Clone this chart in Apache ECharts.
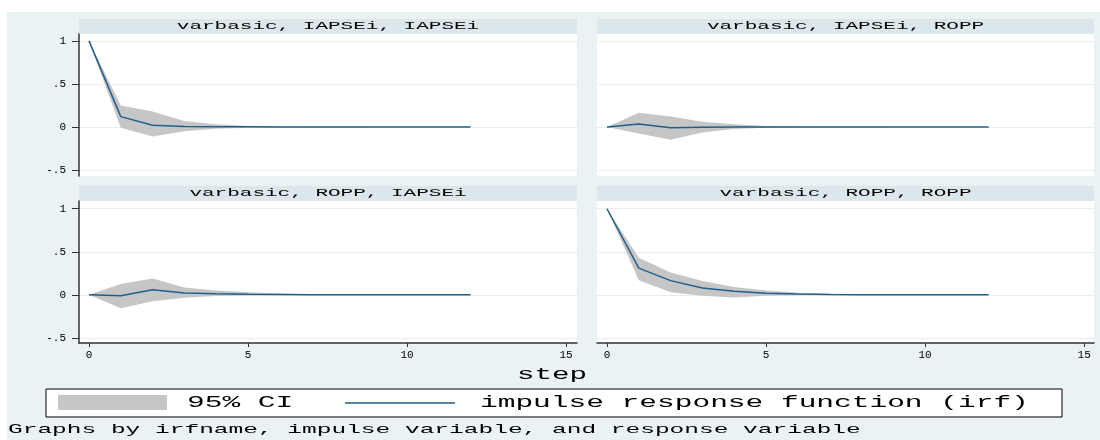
<!DOCTYPE html>
<html>
<head>
<meta charset="utf-8">
<script src="https://cdn.jsdelivr.net/npm/echarts@6/dist/echarts.min.js"></script>
<style>
html,body{margin:0;padding:0;background:#fff;}
#main{width:1100px;height:440px;}
</style>
</head>
<body>
<div id="main"></div>
<script>
var steps = [0,1,2,3,4,5,6,7,8,9,10,11,12];
var xTicks = [0,5,10,15];
var yTicks = [-0.5,0,0.5,1];
var panelTitles = ['varbasic, IAPSEi, IAPSEi','varbasic, IAPSEi, ROPP','varbasic, ROPP, IAPSEi','varbasic, ROPP, ROPP'];

// impulse IAPSEi -> response IAPSEi
var irf1 = [1,0.12,0.02,0.005,0.002,0.001,0,0,0,0,0,0,0];
var lo1  = [1,-0.01,-0.11,-0.05,-0.02,-0.008,-0.003,-0.001,0,0,0,0,0];
var hi1  = [1,0.25,0.18,0.07,0.03,0.012,0.005,0.002,0.001,0,0,0,0];
// impulse IAPSEi -> response ROPP
var irf2 = [0,0.035,-0.01,-0.004,0,0,0,0,0,0,0,0,0];
var lo2  = [0,-0.075,-0.15,-0.065,-0.025,-0.01,-0.004,-0.001,0,0,0,0,0];
var hi2  = [0,0.165,0.12,0.06,0.03,0.012,0.005,0.002,0.001,0,0,0,0];
// impulse ROPP -> response IAPSEi
var irf3 = [0,-0.012,0.058,0.022,0.012,0.006,0.003,0.001,0,0,0,0,0];
var lo3  = [0,-0.155,-0.075,-0.035,-0.015,-0.008,-0.003,-0.001,0,0,0,0,0];
var hi3  = [0,0.125,0.19,0.085,0.05,0.03,0.015,0.006,0.002,0.001,0,0,0];
// impulse ROPP -> response ROPP
var irf4 = [1,0.31,0.165,0.08,0.04,0.018,0.008,0.004,0.002,0.001,0,0,0];
var lo4  = [1,0.17,0.03,-0.01,-0.03,-0.012,-0.005,-0.002,-0.001,0,0,0,0];
var hi4  = [1,0.43,0.26,0.16,0.09,0.05,0.025,0.012,0.006,0.003,0.001,0,0];

var FONT = "'Courier New', 'Liberation Mono', monospace";
var lineColor = '#1f5f8b';
var ciColor = '#c6c6c6';

var chart = echarts.init(document.getElementById('main'));

function pairs(vals){
	return steps.map(function(s,k){ return [s, vals[k]]; });
}

function fmtY(v){
	return String(v).replace('0.', '.');
}

function makeX(i, bottom, right){
	return {
		type:'value', gridIndex:i, min:-0.314, max: right ? 15.31 : 15.346,
		axisLine:{show:bottom, onZero:false, lineStyle:{color:'#333', width:1.5}},
		axisTick:{show:bottom, length:4, customValues:xTicks, lineStyle:{color:'#333'}},
		axisLabel:{show:bottom, customValues:xTicks, margin:7, color:'#000', fontFamily:FONT, fontSize:11},
		splitLine:{show:false}
	};
}

function makeY(i, left, bottom){
	return {
		type:'value', gridIndex:i, min: bottom ? -0.56 : -0.57, max: bottom ? 1.09 : 1.08,
		axisLine:{show:left, onZero:false, lineStyle:{color:'#333', width:1.5}},
		axisTick:{show:left, length:7, customValues:yTicks, lineStyle:{color:'#333'}},
		axisLabel:{show:left, customValues:yTicks, margin:13, color:'#000', fontFamily:FONT, fontSize:11, formatter:fmtY},
		splitLine:{show:true, lineStyle:{color:'#e6eef0', width:1}}
	};
}

function bandSeries(i, lo, hi){
	return {
		type:'custom', xAxisIndex:i, yAxisIndex:i, silent:true, data:[[0,0]],
		renderItem:function(params, api){
			var pts = [];
			for (var k = 0; k < steps.length; k++) pts.push(api.coord([steps[k], hi[k]]));
			for (var k = steps.length - 1; k >= 0; k--) pts.push(api.coord([steps[k], lo[k]]));
			return {type:'polygon', shape:{points:pts}, style:{fill:ciColor}};
		}
	};
}

function irfSeries(i, vals){
	return {
		type:'line', xAxisIndex:i, yAxisIndex:i, data:pairs(vals), symbol:'none',
		lineStyle:{color:lineColor, width:1.5}, silent:true
	};
}

// stretched monospace text, like the stata output
function tx(text, x, y, size, pitch, align){
	return {
		type:'text', x:x, y:y, scaleX: pitch / (0.6 * size), z:20,
		style:{text:text, fontSize:size, fontFamily:FONT, fill:'#000',
			align:align, textAlign:align, verticalAlign:'middle', textVerticalAlign:'middle'}
	};
}

var panels = [
	{left:79, top:34, width:498},
	{left:597, top:34, width:497},
	{left:79, top:201, width:498},
	{left:597, top:201, width:497}
];

var grids = panels.map(function(p){
	return {left:p.left, top:p.top, width:p.width, height:142, show:true, backgroundColor:'#fff', borderWidth:0};
});

var graphics = [
	{type:'rect', shape:{x:0, y:0, width:1100, height:12}, style:{fill:'#fff'}},
	{type:'rect', shape:{x:0, y:0, width:7, height:440}, style:{fill:'#fff'}}
];
panels.forEach(function(p, i){
	graphics.push({type:'rect', shape:{x:p.left, y:p.top - 15, width:p.width, height:15}, style:{fill:'#dce7ec'}});
	graphics.push(tx(panelTitles[i], p.left + p.width / 2, p.top - 7.5, 11, 12.6, 'center'));
});
graphics.push(tx('step', 552, 375, 16, 17.5, 'center'));
graphics.push({type:'rect', shape:{x:46, y:389, width:1016, height:28}, style:{fill:'#fff', stroke:'#000', lineWidth:1}});
graphics.push({type:'rect', shape:{x:58, y:395, width:109, height:15}, style:{fill:ciColor}});
graphics.push(tx('95% CI', 187, 403, 16, 17.7, 'left'));
graphics.push({type:'line', shape:{x1:345, y1:403, x2:455, y2:403}, style:{stroke:lineColor, lineWidth:1.5}});
graphics.push(tx('impulse response function (irf)', 480, 403, 16, 17.7, 'left'));
graphics.push(tx('Graphs by irfname, impulse variable, and response variable', 8, 430, 13, 14.7, 'left'));

var option = {
	backgroundColor:'#eaf2f3',
	animation:false,
	grid:grids,
	xAxis:[makeX(0,false,false), makeX(1,false,true), makeX(2,true,false), makeX(3,true,true)],
	yAxis:[makeY(0,true,false), makeY(1,false,false), makeY(2,true,true), makeY(3,false,true)],
	series:[
		bandSeries(0, lo1, hi1), bandSeries(1, lo2, hi2), bandSeries(2, lo3, hi3), bandSeries(3, lo4, hi4),
		irfSeries(0, irf1), irfSeries(1, irf2), irfSeries(2, irf3), irfSeries(3, irf4)
	],
	graphic:graphics
};
chart.setOption(option);
</script>
</body>
</html>
